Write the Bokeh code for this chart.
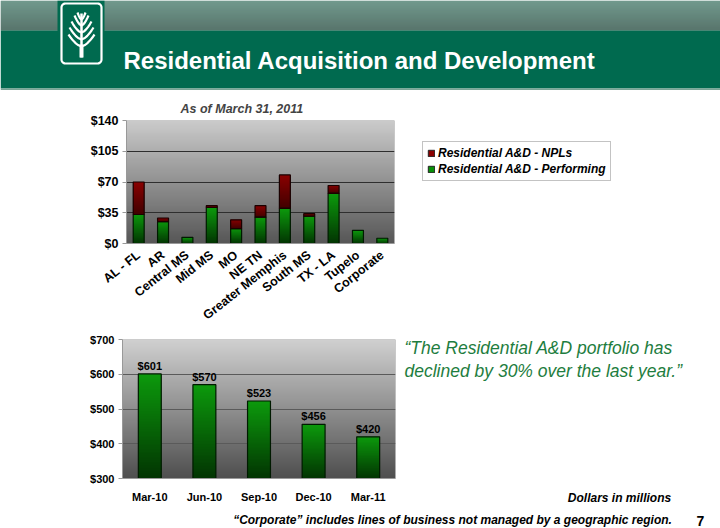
import numpy as np
from bokeh.plotting import figure
from bokeh.models import Range1d, FactorRange, FixedTicker, NumeralTickFormatter, Legend, LegendItem
from bokeh.layouts import column, row
from bokeh.embed import file_html
from bokeh.resources import INLINE
from bokeh.core.properties import value

# ---------------- data ----------------
regions = ["AL - FL", "AR", "Central MS", "Mid MS", "MO", "NE TN", "Greater Memphis",
           "South MS", "TX - LA", "Tupelo", "Corporate"]
performing = [33, 25, 7, 41, 17, 30, 40, 31, 57, 15, 6]
npls = [37, 4, 0, 2, 10, 13, 38, 3, 9, 0, 0]
top_ticks = [0, 35, 70, 105, 140]

quarters = ["Mar-10", "Jun-10", "Sep-10", "Dec-10", "Mar-11"]
portfolio = [601, 570, 523, 456, 420]
bottom_ticks = [300, 400, 500, 600, 700]

TITLE = "Residential Acquisition and Development"
SUBTITLE = "As of March 31, 2011"
LEG_NPL = "Residential A&D - NPLs"
LEG_PERF = "Residential A&D - Performing"
QUOTE = ["\u201cThe Residential A&D portfolio has", "declined by 30% over the last year.\u201d"]
UNITS = "Dollars in millions"
FOOTNOTE = "\u201cCorporate\u201d includes lines of business not managed by a geographic region."
PAGE = "7"

FONT = "Liberation Sans"
GREEN = "#0a7a0a"
RED = "#6e0000"


def hexcol(c):
    return "#%02x%02x%02x" % tuple(int(round(v)) for v in c)


def ramp(c0, c1, n=64):
    a = np.array([int(c0[i:i + 2], 16) for i in (1, 3, 5)], float)
    b = np.array([int(c1[i:i + 2], 16) for i in (1, 3, 5)], float)
    return [hexcol(a + (b - a) * t) for t in np.linspace(0, 1, n)]


GRAD = np.linspace(0, 1, 64).reshape(64, 1)
GREEN_PAL = ramp("#023502", "#0c9a0c")
RED_PAL = ramp("#420000", "#8a0000")


def canvas(w, h, x0, y0):
    p = figure(width=w, height=h, x_range=Range1d(x0, x0 + w), y_range=Range1d(y0 + h, y0),
               output_backend="svg", toolbar_location=None, min_border=0,
               x_axis_location=None, y_axis_location=None)
    p.grid.visible = False
    p.outline_line_color = None
    p.background_fill_color = "white"
    p.border_fill_color = "white"
    return p


def style_axes(p, size):
    for ax in (p.xaxis, p.yaxis):
        ax.major_label_text_font = FONT
        ax.major_label_text_font_style = "bold"
        ax.major_label_text_font_size = size
        ax.major_label_text_color = "black"
        ax.axis_line_color = "#999999"
        ax.major_tick_line_color = "#999999"
        ax.minor_tick_line_color = None
    p.yaxis.major_tick_out = 4
    p.yaxis.major_tick_in = 0
    p.yaxis.major_label_standoff = 4
    p.xaxis.major_tick_line_color = None


def label(p, x, y, txt, size, style="normal", color="black", align="left"):
    p.text(x=x, y=y, text=txt, text_color=color, text_font=value(FONT), text_font_style=style,
           text_font_size=size, text_align=align, text_baseline="middle")


# ---------------- header ----------------
hdr = canvas(720, 90, 0, 0)
n = 30
ys = np.arange(n)
hdr.quad(left=0, right=720, top=ys.tolist(), bottom=(ys + 1).tolist(),
         fill_color=ramp("#427868", "#22483c", n), line_color=None)
hdr.quad(left=0, right=720, top=30, bottom=88, fill_color="#006a4f", line_color=None)
hdr.quad(left=0, right=720, top=88, bottom=90, fill_color="#7aa596", line_color=None)
hdr.quad(left=57, right=104, top=0, bottom=66, fill_color="#006a4f", line_color=None)
r = 4
cx = [61 + r, 101 - r, 101 - r, 61 + r]
cy = [3 + r, 3 + r, 63 - r, 63 - r]
starts = [np.pi, 1.5 * np.pi, 0, 0.5 * np.pi]
px, py = [], []
for (ccx, ccy, s) in zip(cx, cy, starts):
    t = np.linspace(s, s + 0.5 * np.pi, 8)
    px += (ccx + r * np.cos(t)).tolist()
    py += (ccy + r * np.sin(t)).tolist()
px.append(px[0]); py.append(py[0])
hdr.line(px, py, line_color="white", line_width=2.2)
hdr.line([81, 81], [57, 13], line_color="white", line_width=2.5)
hdr.quad(left=79, right=83, top=44, bottom=57, fill_color="white", line_color=None)
bx, by = [], []
for y0, dx, dy in [(46, 13, 12), (39, 12, 12), (32, 10, 11), (25, 7, 10), (19, 4, 7)]:
    for sgn in (-1, 1):
        xs_ = 81 + sgn * dx * np.linspace(0, 1, 6) ** 0.8
        ys_ = y0 - dy * np.linspace(0, 1, 6) ** 1.3
        bx.append(xs_.tolist()); by.append(ys_.tolist())
hdr.multi_line(bx, by, line_color="white", line_width=2.2)
label(hdr, [123], [60], [TITLE], "24px", "bold", "white")

# ---------------- top chart ----------------
top = figure(width=412, height=240, x_range=FactorRange(*regions), y_range=Range1d(0, 140),
             output_backend="svg", toolbar_location=None,
             min_border_left=126, min_border_right=18, min_border_top=30, min_border_bottom=85)
top.background_fill_color = "#9a9a9a"
top.border_fill_color = "white"
top.outline_line_color = None
top.image(image=[GRAD], x=0, y=0, dw=len(regions), dh=140,
          palette=ramp("#575757", "#cacaca"), level="image")
top.xgrid.visible = False
top.ygrid.ticker = FixedTicker(ticks=top_ticks)
top.ygrid.grid_line_color = "#2e2e2e"
top.ygrid.level = "image"
top.yaxis.ticker = FixedTicker(ticks=top_ticks)
top.yaxis.formatter = NumeralTickFormatter(format="$0")
style_axes(top, "12.5px")
top.xaxis.major_label_orientation = 0.67
top.xaxis.major_label_standoff = 4

W = 0.45
total = [a + b for a, b in zip(performing, npls)]
top.vbar(x=regions, top=performing, bottom=0, width=W, fill_color=GREEN, line_color=None)
top.vbar(x=regions, top=total, bottom=performing, width=W, fill_color=RED, line_color=None)
xs_num = [i + 0.5 - W / 2 for i in range(len(regions))]
top.image(image=[GRAD] * len(regions), x=xs_num, y=[0] * len(regions), dw=[W] * len(regions),
          dh=performing, palette=GREEN_PAL)
idx = [i for i, v in enumerate(npls) if v > 0]
top.image(image=[GRAD] * len(idx), x=[xs_num[i] for i in idx], y=[performing[i] for i in idx],
          dw=[W] * len(idx), dh=[npls[i] for i in idx], palette=RED_PAL)
top.vbar(x=regions, top=performing, bottom=0, width=W, fill_color=None, line_color="#001a00", line_width=1.2)
top.vbar(x=[regions[i] for i in idx], top=[total[i] for i in idx], bottom=[performing[i] for i in idx],
         width=W, fill_color=None, line_color="#1a0000", line_width=1.2)

top.title.text = SUBTITLE
top.title.text_font = FONT
top.title.text_font_style = "bold italic"
top.title.text_font_size = "12.5px"
top.title.align = "left"
top.title.offset = 54
top.title.standoff = 10

# ---------------- legend panel ----------------
leg = canvas(308, 240, 412, 90)
r_npl = leg.rect(x=[0], y=[0], width=1, height=1, fill_color="#8a0000", line_color="#222222")
r_perf = leg.rect(x=[0], y=[0], width=1, height=1, fill_color="#089008", line_color="#222222")
legend = Legend(items=[LegendItem(label=LEG_NPL, renderers=[r_npl]),
                       LegendItem(label=LEG_PERF, renderers=[r_perf])],
                location=(10, 149), orientation="vertical")
legend.label_text_font = FONT
legend.label_text_font_style = "bold italic"
legend.label_text_font_size = "12px"
legend.label_text_color = "black"
legend.glyph_width = 8
legend.glyph_height = 8
legend.label_height = 12
legend.label_standoff = 3
legend.spacing = 2
legend.padding = 4
legend.margin = 0
legend.border_line_color = "#888888"
legend.background_fill_color = "white"
legend.background_fill_alpha = 1
leg.add_layout(legend, "center")

# ---------------- bottom chart ----------------
bot = figure(width=400, height=175, x_range=FactorRange(*quarters), y_range=Range1d(300, 700),
             output_backend="svg", toolbar_location=None,
             min_border_left=122, min_border_right=5, min_border_top=9, min_border_bottom=20)
bot.background_fill_color = "#9a9a9a"
bot.border_fill_color = "white"
bot.outline_line_color = None
bot.image(image=[GRAD], x=0, y=300, dw=len(quarters), dh=400,
          palette=ramp("#4f4f4f", "#cfcfcf"), level="image")
bot.xgrid.visible = False
bot.ygrid.ticker = FixedTicker(ticks=bottom_ticks)
bot.ygrid.grid_line_color = "#5a5a5a"
bot.ygrid.level = "image"
bot.yaxis.ticker = FixedTicker(ticks=bottom_ticks)
bot.yaxis.formatter = NumeralTickFormatter(format="$0")
style_axes(bot, "11px")
bot.xaxis.major_label_standoff = 6

W2 = 0.42
bot.vbar(x=quarters, top=portfolio, bottom=300, width=W2, fill_color=GREEN, line_color=None)
bot.image(image=[GRAD] * len(quarters), x=[i + 0.5 - W2 / 2 for i in range(len(quarters))],
          y=[300] * len(quarters), dw=[W2] * len(quarters), dh=[v - 300 for v in portfolio], palette=GREEN_PAL)
bot.vbar(x=quarters, top=portfolio, bottom=300, width=W2, fill_color=None, line_color="#001a00", line_width=1.2)
bot.text(x=quarters, y=portfolio, text=["$%d" % v for v in portfolio], text_align="center",
         text_baseline="bottom", y_offset=-2, text_font=value(FONT), text_font_style="bold",
         text_font_size="11px", text_color="black")

# ---------------- quote panel ----------------
qt = canvas(320, 175, 400, 330)
label(qt, [404, 404], [347, 370], QUOTE, "17.5px", "italic", "#1e7d40")
label(qt, [619], [497], [UNITS], "12px", "bold italic", "black", "center")

# ---------------- footer ----------------
ft = canvas(720, 23, 0, 505)
label(ft, [452], [519], [FOOTNOTE], "12px", "bold italic", "black", "center")
label(ft, [700], [520], [PAGE], "14px", "bold", "black", "center")

layout = column(
    row(hdr),
    row(column(top), column(leg)),
    row(column(bot), column(qt)),
    row(ft),
    spacing=0,
)
open("out.html", "w").write(file_html(layout, INLINE))
